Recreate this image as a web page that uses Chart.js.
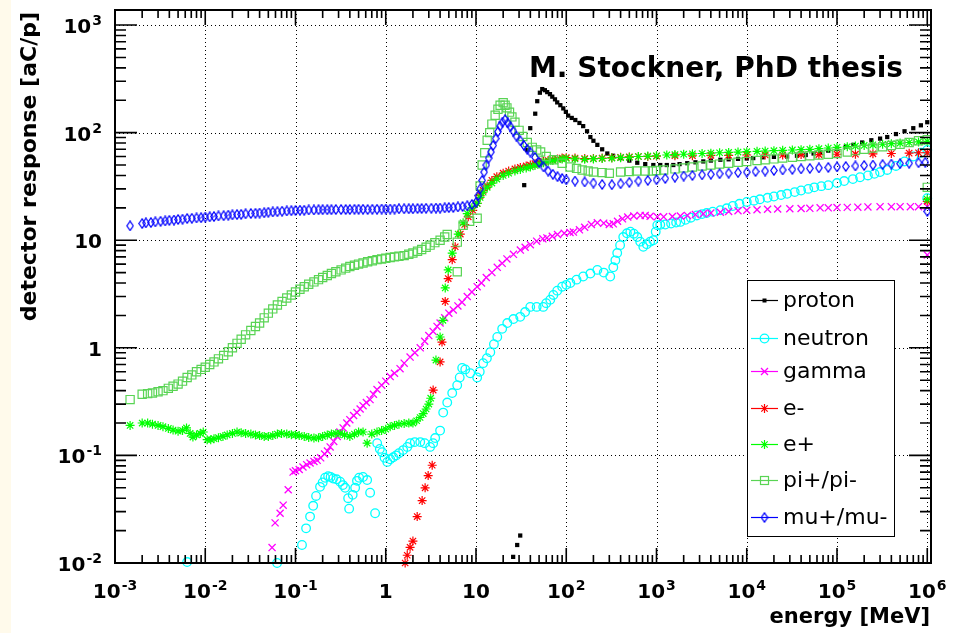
<!DOCTYPE html>
<html>
<head>
<meta charset="utf-8">
<script src="https://cdn.jsdelivr.net/npm/chart.js@4.4.1/dist/chart.umd.min.js"></script>
<style>
  html, body { margin: 0; padding: 0; background: #fff; }
  #wrap { position: relative; width: 955px; height: 633px; }
  #strip { position: absolute; left: 0; top: 0; width: 11px; height: 633px; background: #fffaeb; }
  #chart { position: absolute; left: 0; top: 0; }
</style>
</head>
<body>
<div id="wrap"><div id="strip"></div><canvas id="chart" width="955" height="633"></canvas></div>
<script>
// tick labels (decade exponents)
const xTickExps = [-3, -2, -1, 0, 1, 2, 3, 4, 5, 6];
const yTickExps = [-2, -1, 0, 1, 2, 3];

const seriesNames = ['proton', 'neutron', 'gamma', 'e-', 'e+', 'pi+/pi-', 'mu+/mu-'];

// [energy MeV, response aC/p]
const protonData = [[25.8,0.0114],[28.6,0.0147],[30.9,0.018],[34.2,32.5],[37,69],[39.9,110],[45.3,150],[47.7,196],[51,235],[54.2,254],[58,248],[61.5,238],[66,228],[70,216],[75,204],[79.4,191],[86,180],[92.7,168],[99,156],[105,144],[115,137],[126,131],[140,123],[154,115],[170,103],[185,91],[200,84],[221,77],[250,70],[285,64],[330,61],[397,58],[500,55],[612,52.5],[750,51],[922,50],[1100,50],[1300,50],[1535,50],[1800,51],[2190,52],[2700,53],[3300,54],[4000,55],[5100,56],[6300,56.5],[8000,57],[1e4,57.5],[1.18e4,58],[1.5e4,59],[2e4,59.5],[2.8e4,60],[3.6e4,61],[4.5e4,62],[5.5e4,64],[6.5e4,66],[8e4,68],[1e5,71],[1.25e5,74],[1.52e5,77],[1.9e5,81],[2.4e5,85],[3e5,88],[3.6e5,91],[4.5e5,97],[5.6e5,103],[7e5,110],[8.5e5,117],[1e6,125]];

const neutronData = [[0.0063,0.0102],[0.0625,0.01],[0.118,0.0147],[0.131,0.021],[0.145,0.027],[0.157,0.034],[0.169,0.042],[0.187,0.051],[0.2,0.056],[0.213,0.062],[0.23,0.064],[0.245,0.063],[0.261,0.061],[0.285,0.06],[0.312,0.057],[0.335,0.053],[0.355,0.05],[0.383,0.04],[0.393,0.032],[0.43,0.043],[0.458,0.05],[0.48,0.058],[0.507,0.062],[0.56,0.063],[0.622,0.059],[0.671,0.045],[0.762,0.029],[0.803,0.13],[0.86,0.115],[0.912,0.107],[0.97,0.095],[1.04,0.087],[1.12,0.092],[1.21,0.096],[1.3,0.1],[1.4,0.105],[1.56,0.112],[1.73,0.12],[1.86,0.13],[2.1,0.133],[2.41,0.133],[2.7,0.13],[3.1,0.12],[3.35,0.13],[3.53,0.145],[4.0,0.17],[4.33,0.25],[4.8,0.31],[5.45,0.38],[6.19,0.45],[6.6,0.53],[7.03,0.65],[7.6,0.63],[8.63,0.58],[10.3,0.53],[11,0.6],[12,0.72],[13.2,0.8],[14.4,0.91],[15.8,1.08],[17.2,1.26],[19.5,1.5],[22.2,1.7],[26,1.85],[30.9,1.94],[35,2.15],[39.9,2.4],[47,2.4],[55.6,2.4],[60,2.6],[66.5,2.8],[72,3.1],[79.4,3.4],[90,3.7],[100,3.85],[111,4.0],[130,4.3],[154,4.6],[185,4.9],[221,5.3],[260,5.0],[307,4.6],[332,5.6],[350,6.5],[367,7.6],[395,9.0],[428,10.7],[470,11.6],[513,12],[560,11.5],[612,10.7],[660,9.7],[714,8.7],[780,9.2],[850,9.7],[922,10],[980,12],[1020,13.8],[1100,13.9],[1250,14.0],[1450,14.3],[1650,14.6],[1837,14.8],[2100,15.5],[2400,16.2],[2800,17],[3200,17.5],[3600,17.9],[4200,18.4],[5100,19],[6000,19.8],[7000,20.8],[8300,21.8],[1e4,22.7],[1.2e4,23.3],[1.4e4,24],[1.7e4,24.8],[2e4,25.5],[2.4e4,26.3],[2.8e4,27],[3.4e4,28],[4e4,29],[4.8e4,30],[5.6e4,31],[6.7e4,31.8],[8e4,32.5],[1e5,34],[1.2e5,35.5],[1.5e5,37],[1.8e5,38.5],[2.2e5,40],[2.6e5,41.5],[3e5,43],[3.6e5,45],[4.5e5,49],[5.6e5,54],[7e5,60],[8.5e5,65],[1e6,69],[1e6,24.6]];

const gammaData = [[0.055,0.0139],[0.0594,0.0236],[0.0675,0.029],[0.073,0.0345],[0.083,0.048],[0.094,0.07],[0.1,0.072],[0.11,0.074],[0.121,0.078],[0.133,0.082],[0.145,0.085],[0.16,0.088],[0.174,0.09],[0.19,0.095],[0.21,0.103],[0.226,0.11],[0.242,0.12],[0.265,0.135],[0.29,0.15],[0.31,0.165],[0.337,0.18],[0.37,0.2],[0.4,0.215],[0.44,0.235],[0.48,0.25],[0.52,0.27],[0.56,0.29],[0.61,0.31],[0.67,0.33],[0.73,0.37],[0.8,0.41],[0.9,0.45],[1.0,0.49],[1.12,0.54],[1.25,0.58],[1.44,0.64],[1.6,0.72],[1.86,0.82],[2.1,0.9],[2.41,1.0],[2.7,1.15],[3.0,1.3],[3.35,1.42],[3.7,1.58],[4.0,1.7],[4.5,1.9],[5.0,2.1],[5.6,2.25],[6.3,2.45],[7.0,2.65],[8.0,3.0],[9,3.3],[10.3,3.7],[11.5,4.0],[13,4.5],[15,5.0],[17.2,5.6],[19.5,6.1],[22,6.7],[26,7.4],[31,8.1],[35,8.6],[40,9.1],[47,9.8],[55,10.3],[61,10.5],[70,10.9],[80,11.3],[95,11.6],[110,11.8],[120,11.9],[140,12.5],[160,13.2],[190,14],[221,14.5],[260,14.4],[300,14],[332,14.2],[370,15],[420,15.8],[480,16.4],[560,16.8],[661,17],[750,17],[850,16.7],[1020,16.5],[1200,16.5],[1500,16.6],[1837,16.8],[2200,17],[2700,17.3],[3300,17.6],[4000,17.9],[5100,18.2],[6300,18.5],[8000,18.8],[1e4,19],[1.3e4,19.2],[1.7e4,19.4],[2.2e4,19.5],[3e4,19.6],[4e4,19.7],[5e4,19.8],[6.5e4,20],[8e4,20],[1e5,20.1],[1.3e5,20.2],[1.7e5,20.3],[2.2e5,20.4],[3e5,20.5],[4e5,20.5],[5e5,20.5],[6.5e5,20.5],[8e5,20.5],[1e6,20.5],[1e6,7.3]];

const eMinusData = [[1.64,0.01],[1.73,0.0118],[1.86,0.014],[2.0,0.016],[2.23,0.027],[2.53,0.038],[2.73,0.05],[2.95,0.065],[3.27,0.081],[3.35,0.405],[4.0,0.74],[4.2,1.13],[4.56,2.7],[4.92,4.4],[5.45,6.6],[5.88,8.7],[6.7,11.4],[7.5,14],[8.2,16.5],[9.2,19],[10.3,22],[11.1,26],[12,29],[13.3,32],[15,36],[17,39],[20,42],[23,44],[27,46],[31,47.5],[36,49],[40,50],[45,51.5],[50,53],[56,54],[63,55],[71,56],[80,57],[90,58],[100,58.5],[125,58],[160,57.5],[200,57.5],[250,58],[320,58.5],[400,59],[500,59.5],[630,60],[800,60],[1000,60.5],[1600,61],[2500,61],[4000,61.5],[6300,61.5],[1e4,62],[1.6e4,62],[2.5e4,62],[4e4,62.5],[6.3e4,62.5],[1e5,63],[1.6e5,63],[2.5e5,63.5],[4e5,64],[6.3e5,64.5],[8e5,65],[1e6,65],[1e6,23]];

const ePlusData = [[1.47e-3,0.19],[2e-3,0.2],[2.3e-3,0.2],[2.6e-3,0.195],[3e-3,0.19],[3.4e-3,0.185],[3.9e-3,0.178],[4.4e-3,0.172],[5e-3,0.168],[5.6e-3,0.17],[6.2e-3,0.18],[6.8e-3,0.16],[7.3e-3,0.148],[8e-3,0.155],[8.8e-3,0.16],[9.5e-3,0.165],[0.0105,0.14],[0.0115,0.14],[0.0125,0.143],[0.014,0.146],[0.0157,0.15],[0.0175,0.155],[0.02,0.16],[0.0225,0.165],[0.025,0.162],[0.028,0.16],[0.032,0.158],[0.036,0.155],[0.04,0.153],[0.045,0.15],[0.05,0.15],[0.056,0.153],[0.063,0.158],[0.07,0.16],[0.08,0.158],[0.09,0.156],[0.1,0.155],[0.11,0.153],[0.125,0.15],[0.14,0.147],[0.16,0.145],[0.18,0.146],[0.2,0.15],[0.225,0.155],[0.25,0.158],[0.28,0.16],[0.312,0.16],[0.35,0.155],[0.4,0.15],[0.45,0.158],[0.5,0.165],[0.56,0.165],[0.622,0.13],[0.7,0.158],[0.8,0.165],[0.9,0.17],[1.0,0.175],[1.12,0.185],[1.25,0.19],[1.4,0.195],[1.6,0.198],[1.8,0.2],[2.0,0.2],[2.2,0.21],[2.4,0.225],[2.6,0.245],[2.8,0.27],[3.0,0.3],[3.15,0.34],[3.6,0.77],[4.0,1.26],[4.3,1.8],[4.56,3.6],[4.92,5.3],[5.45,7.6],[6.35,11.4],[7.2,14.5],[8,17.7],[9,20],[10.3,22],[11.1,25],[12,28],[13.3,31],[15,34],[17,37],[20,40],[23,42],[27,44],[31,45.5],[36,47],[40,48],[45,49.5],[50,51],[56,52.5],[63,54],[71,55],[80,56],[90,57],[100,57.5],[125,57],[160,56.5],[200,57],[250,57.5],[320,58],[400,58.5],[500,59],[630,60],[800,60.5],[1000,61],[1300,62],[1600,62.5],[2000,63],[2500,63.5],[3200,64],[4000,64.5],[5000,65],[6300,65.5],[8000,66],[1e4,66.5],[1.3e4,67],[1.6e4,67.5],[2e4,68],[2.5e4,68.5],[3.2e4,69],[4e4,69.5],[5e4,70],[6.3e4,71],[8e4,72],[1e5,73],[1.3e5,74],[1.6e5,75],[2e5,76],[2.5e5,77],[3.2e5,78],[4e5,79],[5e5,80],[6.3e5,81],[8e5,82],[1e6,83],[1e6,24]];

const pionData = [[1.47e-3,0.33],[2e-3,0.37],[2.3e-3,0.375],[2.6e-3,0.38],[3e-3,0.39],[3.4e-3,0.4],[3.9e-3,0.42],[4.4e-3,0.44],[5e-3,0.46],[5.6e-3,0.49],[6.3e-3,0.53],[7.1e-3,0.56],[8e-3,0.6],[9e-3,0.63],[0.01,0.66],[0.0112,0.7],[0.0125,0.74],[0.014,0.79],[0.016,0.85],[0.018,0.92],[0.02,1.0],[0.0225,1.1],[0.025,1.2],[0.028,1.32],[0.032,1.45],[0.036,1.58],[0.04,1.7],[0.045,1.9],[0.05,2.1],[0.056,2.3],[0.063,2.5],[0.071,2.7],[0.08,2.9],[0.09,3.1],[0.1,3.3],[0.112,3.5],[0.125,3.7],[0.14,3.9],[0.16,4.1],[0.18,4.3],[0.2,4.5],[0.225,4.7],[0.25,4.9],[0.28,5.1],[0.32,5.3],[0.36,5.5],[0.4,5.7],[0.45,5.85],[0.5,6.0],[0.56,6.15],[0.63,6.3],[0.71,6.45],[0.8,6.6],[0.9,6.7],[1.0,6.8],[1.12,6.9],[1.25,7.0],[1.4,7.1],[1.6,7.2],[1.8,7.4],[2.0,7.6],[2.25,7.9],[2.5,8.2],[2.8,8.6],[3.1,9.0],[3.5,9.5],[4.0,10],[4.5,10.7],[4.8,11.3],[6.2,9.6],[6.2,5.1],[7.2,13.8],[8.5,15],[10.3,16],[11.1,32],[11.7,50],[12.5,65],[13.3,85],[14.2,100],[15,120],[16.3,145],[17.5,165],[18.5,180],[20,190],[21,180],[22,170],[23.5,155],[25,140],[27,125],[30,105],[33,92],[37,81],[42,73],[47,69],[52,66],[60,60],[72,56],[90,52],[110,48],[130,46.5],[150,45],[175,44],[200,43],[250,42.5],[300,42],[400,43],[500,43.5],[600,44],[750,44],[900,44],[1000,44.5],[1200,45],[1600,46],[2000,47],[2500,48],[3200,49],[4000,50],[5000,51],[6300,52],[8000,53],[1e4,54],[1.3e4,55],[1.6e4,56],[2e4,57],[2.5e4,58],[3.2e4,59],[4e4,60],[5e4,61],[6.3e4,62],[8e4,63],[1e5,64],[1.3e5,66],[1.6e5,68],[2e5,70],[2.5e5,72],[3.2e5,74],[4e5,76],[5e5,78],[6.3e5,81],[8e5,84],[1e6,86],[1e6,31]];

const muonData = [[1.47e-3,13.6],[2e-3,14.3],[2.2e-3,14.5],[2.5e-3,14.6],[2.8e-3,14.8],[3.2e-3,15],[3.6e-3,15.1],[4e-3,15.3],[4.5e-3,15.4],[5e-3,15.6],[5.6e-3,15.7],[6.3e-3,15.9],[7.1e-3,16],[8e-3,16.1],[9e-3,16.2],[0.01,16.4],[0.0112,16.5],[0.0125,16.6],[0.014,16.8],[0.016,16.9],[0.018,17.1],[0.02,17.2],[0.0225,17.3],[0.025,17.4],[0.028,17.6],[0.032,17.7],[0.036,17.8],[0.04,17.9],[0.045,18],[0.05,18.2],[0.056,18.3],[0.063,18.4],[0.071,18.6],[0.08,18.7],[0.09,18.8],[0.1,18.9],[0.112,19],[0.125,19],[0.14,19.1],[0.16,19.1],[0.18,19.2],[0.2,19.2],[0.225,19.2],[0.25,19.2],[0.28,19.3],[0.32,19.3],[0.36,19.3],[0.4,19.3],[0.45,19.4],[0.5,19.4],[0.56,19.4],[0.63,19.3],[0.71,19.4],[0.8,19.4],[0.9,19.5],[1,19.5],[1.12,19.5],[1.25,19.5],[1.4,19.6],[1.6,19.6],[1.8,19.6],[2,19.6],[2.25,19.7],[2.5,19.7],[2.8,19.8],[3.2,19.8],[3.6,19.9],[4,19.9],[4.5,20],[5,20.1],[5.6,20.2],[6.3,20.4],[7.1,20.6],[8,20.9],[9,21.5],[10,22.5],[10.6,26],[11.1,30],[11.7,36],[12.3,43],[13,50],[13.8,58],[14.6,66],[15.5,76],[16.5,88],[17.5,102],[18.5,115],[19.6,125],[21,132],[22.5,123],[24,114],[26,103],[28,93],[31,84],[34,76],[37,70],[40,66],[45,59],[50,53],[56,48],[63,44],[71,41],[80,39],[90,37.5],[100,36.5],[125,35.5],[160,34.8],[200,34],[250,33],[320,32.8],[400,33.5],[500,34.5],[630,35.5],[800,36],[1000,36.5],[1250,37.5],[1600,38.5],[2000,39.5],[2500,40],[3200,40.5],[4000,41],[5000,41.5],[6300,42],[8000,42.5],[1e4,43],[1.25e4,43.5],[1.6e4,44],[2e4,44.5],[2.5e4,45],[3.2e4,45.5],[4e4,46],[5e4,46.5],[6.3e4,47],[8e4,47.5],[1e5,48],[1.25e5,48.5],[1.6e5,49],[2e5,49.5],[2.5e5,50],[3.2e5,50.5],[4e5,51],[5e5,51.5],[6.3e5,52],[8e5,52.5],[9.5e5,53],[1e6,18.5]];

const seriesData = [protonData, neutronData, gammaData, eMinusData, ePlusData, pionData, muonData];

// thin open diamond like ROOT marker 27
function diamondMarker(color) {
  const c = document.createElement('canvas');
  c.width = 8; c.height = 11;
  const g = c.getContext('2d');
  g.strokeStyle = color; g.lineWidth = 1.2;
  g.beginPath();
  g.moveTo(4, 0.8); g.lineTo(7.2, 5.5); g.lineTo(4, 10.2); g.lineTo(0.8, 5.5);
  g.closePath(); g.stroke();
  return c;
}
const muDiamond = diamondMarker('#0000ff');

// marker looks per series
const looks = [
  { color: '#000000', style: 'rect', radius: 3, fill: true, bw: 0 },
  { color: '#00ffff', style: 'circle', radius: 4.3, fill: false, bw: 1.3 },
  { color: '#ff00ff', style: 'crossRot', radius: 5, fill: false, bw: 1.3 },
  { color: '#ff0000', style: 'star', radius: 4.5, fill: false, bw: 1.2 },
  { color: '#00ff00', style: 'star', radius: 4.5, fill: false, bw: 1.2 },
  { color: '#59d454', style: 'rect', radius: 5.8, fill: false, bw: 1.2 },
  { color: '#0000ff', style: muDiamond, radius: 5, fill: false, bw: 1 }
];

const datasets = seriesNames.map((name, i) => ({
  label: name,
  data: seriesData[i].map(p => ({ x: p[0], y: p[1] })),
  pointStyle: looks[i].style,
  pointRadius: looks[i].radius,
  pointBorderColor: looks[i].color,
  pointBackgroundColor: looks[i].fill ? looks[i].color : 'rgba(0,0,0,0)',
  pointBorderWidth: looks[i].bw,
  showLine: false,
  clip: false,
  order: seriesNames.length - i
}));

function legendMark(ctx, i, x, y) {
  const lk = looks[i];
  ctx.save();
  ctx.strokeStyle = lk.color; ctx.fillStyle = lk.color; ctx.lineWidth = lk.bw || 1;
  ctx.beginPath();
  if (i === 0) {
    ctx.fillRect(x - 2, y - 2, 4, 4);
  } else if (i === 1) {
    ctx.arc(x, y, 4.3, 0, Math.PI * 2); ctx.stroke();
  } else if (i === 2) {
    ctx.moveTo(x - 3.5, y - 3.5); ctx.lineTo(x + 3.5, y + 3.5);
    ctx.moveTo(x - 3.5, y + 3.5); ctx.lineTo(x + 3.5, y - 3.5); ctx.stroke();
  } else if (i === 3 || i === 4) {
    ctx.moveTo(x - 4.5, y); ctx.lineTo(x + 4.5, y);
    ctx.moveTo(x, y - 4.5); ctx.lineTo(x, y + 4.5);
    ctx.moveTo(x - 3.2, y - 3.2); ctx.lineTo(x + 3.2, y + 3.2);
    ctx.moveTo(x - 3.2, y + 3.2); ctx.lineTo(x + 3.2, y - 3.2); ctx.stroke();
  } else if (i === 5) {
    ctx.strokeRect(x - 4, y - 4, 8, 8);
  } else {
    ctx.drawImage(muDiamond, x - 4, y - 5.5);
  }
  ctx.restore();
}

function powLabel(ctx, e, x, yBase, align) {
  const base = e === 0 ? '1' : '10';
  const sup = (e === 0 || e === 1) ? '' : String(e);
  ctx.font = 'bold 20px "DejaVu Sans"';
  const wb = ctx.measureText(base).width;
  ctx.font = 'bold 14px "DejaVu Sans"';
  const ws = sup ? ctx.measureText(sup).width + 1 : 0;
  const total = wb + ws;
  const x0 = align === 'center' ? x - total / 2 : x - total;
  ctx.textAlign = 'left';
  ctx.textBaseline = 'alphabetic';
  ctx.font = 'bold 20px "DejaVu Sans"';
  ctx.fillText(base, x0, yBase);
  if (sup) {
    ctx.font = 'bold 14px "DejaVu Sans"';
    ctx.fillText(sup, x0 + wb + 1, yBase - 8);
  }
}

const rootStyle = {
  id: 'rootStyle',
  beforeDatasetsDraw(chart) {
    const { ctx, chartArea: a, scales: { x, y } } = chart;
    ctx.save();
    ctx.strokeStyle = '#000';
    ctx.lineWidth = 1;
    ctx.setLineDash([1, 3]);
    ctx.beginPath();
    xTickExps.forEach(e => {
      const px = Math.round(x.getPixelForValue(Math.pow(10, e))) + 0.5;
      ctx.moveTo(px, a.top); ctx.lineTo(px, a.bottom);
    });
    yTickExps.forEach(e => {
      const py = Math.round(y.getPixelForValue(Math.pow(10, e))) + 0.5;
      ctx.moveTo(a.left, py); ctx.lineTo(a.right, py);
    });
    ctx.stroke();
    ctx.restore();
  },
  afterDatasetsDraw(chart) {
    const { ctx, chartArea: a, scales: { x, y } } = chart;
    ctx.save();
    ctx.setLineDash([]);
    ctx.strokeStyle = '#000';
    ctx.fillStyle = '#000';

    // ticks
    ctx.lineWidth = 1.6;
    ctx.beginPath();
    xTickExps.forEach(e => {
      for (let m = 1; m <= 9; m++) {
        const v = m * Math.pow(10, e);
        if (v < x.min || v > x.max) continue;
        const px = x.getPixelForValue(v);
        const len = m === 1 ? 15 : 8;
        ctx.moveTo(px, a.bottom); ctx.lineTo(px, a.bottom - len);
        ctx.moveTo(px, a.top); ctx.lineTo(px, a.top + len);
      }
    });
    yTickExps.forEach(e => {
      for (let m = 1; m <= 9; m++) {
        const v = m * Math.pow(10, e);
        if (v < y.min || v > y.max) continue;
        const py = y.getPixelForValue(v);
        const len = m === 1 ? 22 : 11;
        ctx.moveTo(a.left, py); ctx.lineTo(a.left + len, py);
        ctx.moveTo(a.right, py); ctx.lineTo(a.right - len, py);
      }
    });
    ctx.stroke();

    // frame
    ctx.lineWidth = 2;
    ctx.strokeRect(a.left, a.top, a.right - a.left, a.bottom - a.top);

    // tick labels
    xTickExps.forEach(e => powLabel(ctx, e, x.getPixelForValue(Math.pow(10, e)), 598, 'center'));
    yTickExps.forEach(e => powLabel(ctx, e, 102, y.getPixelForValue(Math.pow(10, e)) + 8, 'right'));

    // axis titles
    ctx.font = 'bold 21px "DejaVu Sans"';
    ctx.textAlign = 'right';
    ctx.fillText('energy [MeV]', 930, 623);
    ctx.save();
    ctx.translate(36, 12);
    ctx.rotate(-Math.PI / 2);
    ctx.font = 'bold 22px "DejaVu Sans"';
    ctx.textAlign = 'right';
    ctx.fillText('detector response [aC/p]', 0, 0);
    ctx.restore();

    // note
    ctx.font = 'bold 28px "DejaVu Sans"';
    ctx.textAlign = 'left';
    ctx.fillText('M. Stockner, PhD thesis', 529, 77);

    // legend
    const lx0 = 747, ly0 = 280, lx1 = 894, ly1 = 536;
    const rows = [300, 338, 371, 408, 444, 480, 517];
    ctx.fillStyle = '#fff';
    ctx.fillRect(lx0, ly0, lx1 - lx0, ly1 - ly0);
    ctx.lineWidth = 1;
    ctx.strokeStyle = '#000';
    ctx.strokeRect(lx0 + 0.5, ly0 + 0.5, lx1 - lx0, ly1 - ly0);
    seriesNames.forEach((name, i) => {
      const ry = rows[i];
      ctx.strokeStyle = looks[i].color;
      ctx.lineWidth = 1.2;
      ctx.beginPath();
      ctx.moveTo(751, ry + 0.5); ctx.lineTo(778, ry + 0.5);
      ctx.stroke();
      legendMark(ctx, i, 764.5, ry + 0.5);
      ctx.fillStyle = '#000';
      ctx.font = '22px "DejaVu Sans"';
      ctx.textAlign = 'left';
      ctx.fillText(name, 783, ry + 7);
    });
    ctx.restore();
  }
};

new Chart(document.getElementById('chart'), {
  type: 'scatter',
  data: { datasets: datasets },
  options: {
    responsive: false,
    animation: false,
    devicePixelRatio: 1,
    events: [],
    layout: { padding: { left: 115, top: 10, right: 24, bottom: 70 } },
    scales: {
      x: { type: 'logarithmic', min: 1e-3, max: 1.1e6, bounds: 'data', display: false },
      y: { type: 'logarithmic', min: 0.01, max: 1380, bounds: 'data', display: false }
    },
    plugins: { legend: { display: false }, tooltip: { enabled: false } }
  },
  plugins: [rootStyle]
});
</script>
</body>
</html>
